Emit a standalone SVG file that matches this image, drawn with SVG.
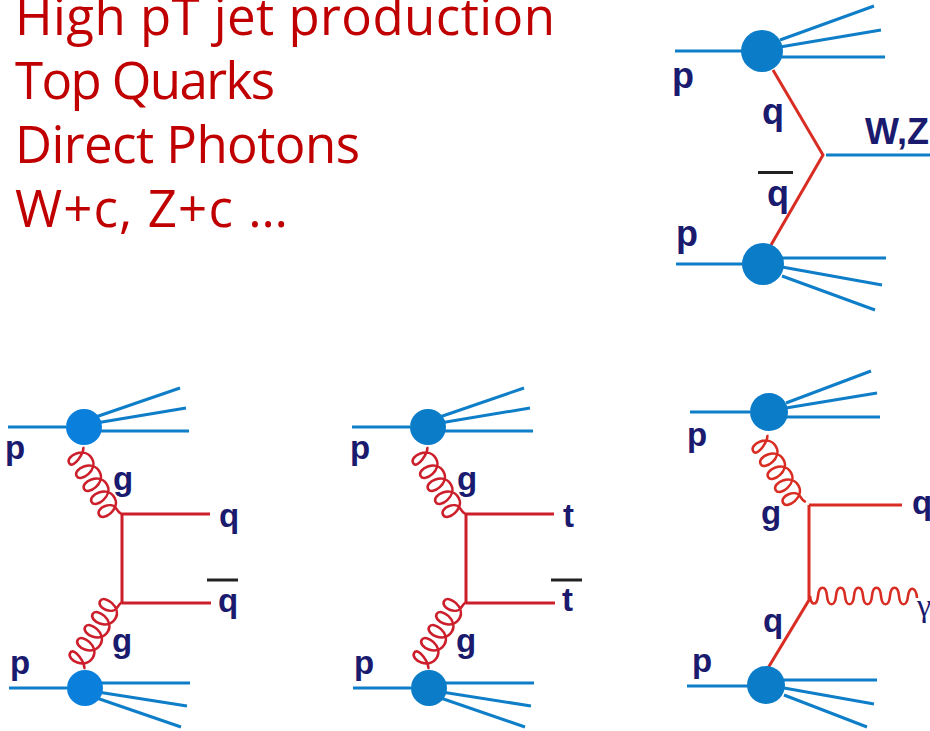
<svg xmlns="http://www.w3.org/2000/svg" xmlns:xlink="http://www.w3.org/1999/xlink" width="930" height="731" viewBox="0 0 930 731">
<style>
.t{font-family:"Open Sans",sans-serif;font-size:51px;fill:#c00000}
.l{font-family:"Liberation Sans",Arial,sans-serif;font-size:33px;font-weight:bold;fill:#1a1a6e}
.m{font-size:36px}
.b{stroke:#0f7ec8;stroke-width:3;fill:none}
.r{stroke:#cc1f2b;stroke-width:3;fill:none}
.o{stroke:#d92c22;stroke-width:3;fill:none}
.k{stroke:#222;stroke-width:3;fill:none}
.c{fill:#0a7cc8}
.c1{fill:#0a80dc}
.g{stroke:#cc1f2b;stroke-width:2.6;fill:none}
</style>
<defs>
<path id="coil" d="M0,0 C5,0 15,20 7,20 c-8,0 -7,-22 7.500,-22 c13,0 15.500,22 7.500,22 c-8,0 -7,-22 7.500,-22 c13,0 15.500,22 7.500,22 c-8,0 -7,-22 7.500,-22 c13,0 15.500,22 7.500,22 c-8,0 -7,-22 7.500,-22 c13,0 15.500,22 7.500,22 c-8,0 -6,-18 3,-18 c3,0 6,-1 7.500,-2"/>
<g id="fan"><path d="M0,0H58"/><path d="M76,-6 L172,-39"/><path d="M76,-2 L178,-19"/><path d="M76,4H181"/></g>
<g id="fandown"><path d="M0,0H58"/><path d="M76,-5H181"/><path d="M76,2 L178,18"/><path d="M76,6 L172,39"/></g>
</defs>
<g id="title">
<text class="t" x="15" y="35" textLength="540">High pT jet production</text>
<text class="t" x="15" y="99" textLength="260">Top Quarks</text>
<text class="t" x="15" y="163" textLength="345">Direct Photons</text>
<text class="t" x="15" y="227" textLength="273">W+c, Z+c …</text>
</g>
<g id="connectors">
<g class="b">
<use xlink:href="#fan" href="#fan" x="8" y="427"/>
<use xlink:href="#fandown" href="#fandown" x="9" y="688"/>
<use xlink:href="#fan" href="#fan" x="352" y="427"/>
<use xlink:href="#fandown" href="#fandown" x="353" y="688"/>
<path d="M690,412H750M786,403L871,371M786,408L877,393M786,417H880"/>
<path d="M687,686H748M784,680H877M784,688L874,704M784,695L867,727"/>
<path d="M675,51H742M780,40L874,6M780,47L881,30M780,57H885"/>
<path d="M676,264H743M782,258H886M782,267L882,285M782,276L875,310"/>
<path d="M826,155H930"/>
</g>
<g class="r">
<path d="M122,514H210M122,514V603M122,603H211"/>
<path d="M466,514H554M466,514V603M466,603H555"/>
</g>
<g class="o">
<path d="M809,505H902M809,505V600L768,668"/>
<path d="M773,70L823,155L771,245"/>
</g>
<g class="g">
<use xlink:href="#coil" href="#coil" transform="translate(83,447) rotate(60)"/>
<use xlink:href="#coil" href="#coil" transform="translate(84,669) rotate(-60) scale(1,-1)"/>
<use xlink:href="#coil" href="#coil" transform="translate(427,447) rotate(60)"/>
<use xlink:href="#coil" href="#coil" transform="translate(428,669) rotate(-60) scale(1,-1)"/>
<use xlink:href="#coil" href="#coil" style="stroke:#d92c22" transform="translate(767,435) rotate(60)"/>
<path style="stroke:#d92c22" d="M810,596c1,10 7,10 8,0c1,-11 8,-11 9,0c1,11 8,11 9,0c1,-11 8,-11 9,0c1,11 8,11 9,0c1,-11 8,-11 9,0c1,11 8,11 9,0c1,-11 8,-11 9,0c1,11 8,11 9,0c1,-11 8,-11 9,0c1,11 8,11 9,0c1,-10 8,-10 9,2"/>
</g>
<g class="k">
<path d="M207,580H238M551,580H582M758,172.500H793"/>
</g>
</g>
<g id="node-a1"><circle class="c1" cx="84" cy="427" r="18"/><text class="l" x="5" y="459">p</text></g>
<g id="node-a2"><circle class="c1" cx="85" cy="688" r="18"/><text class="l" x="10" y="674">p</text></g>
<g id="node-b1"><circle class="c" cx="428" cy="427" r="18"/><text class="l" x="350" y="459">p</text></g>
<g id="node-b2"><circle class="c" cx="429" cy="688" r="18"/><text class="l" x="354" y="674">p</text></g>
<g id="node-c1"><circle class="c" cx="769" cy="412" r="19"/><text class="l" x="687" y="446">p</text></g>
<g id="node-c2"><circle class="c" cx="766" cy="685" r="19"/><text class="l" x="692" y="672">p</text></g>
<g id="node-d1"><circle class="c" cx="762" cy="51" r="21"/><text class="l m" x="672" y="88">p</text></g>
<g id="node-d2"><circle class="c" cx="763" cy="264" r="21"/><text class="l m" x="676" y="246">p</text></g>
<g id="labels">
<text class="l" x="113" y="490">g</text>
<text class="l" x="112" y="652">g</text>
<text class="l" x="219" y="527">q</text>
<text class="l" x="218" y="612">q</text>
<text class="l" x="457" y="490">g</text>
<text class="l" x="456" y="652">g</text>
<text class="l" x="563" y="527">t</text>
<text class="l" x="562" y="611">t</text>
<text class="l" x="761" y="524">g</text>
<text class="l" x="763" y="632">q</text>
<text class="l" x="912" y="514">q</text>
<text x="917" y="616" font-family="'Liberation Serif',serif" font-size="32" fill="#1a1a6e">γ</text>
<text class="l m" x="762" y="124">q</text>
<text class="l m" x="767" y="206">q</text>
<text class="l m" x="865" y="144">W,Z</text>
</g>
</svg>
